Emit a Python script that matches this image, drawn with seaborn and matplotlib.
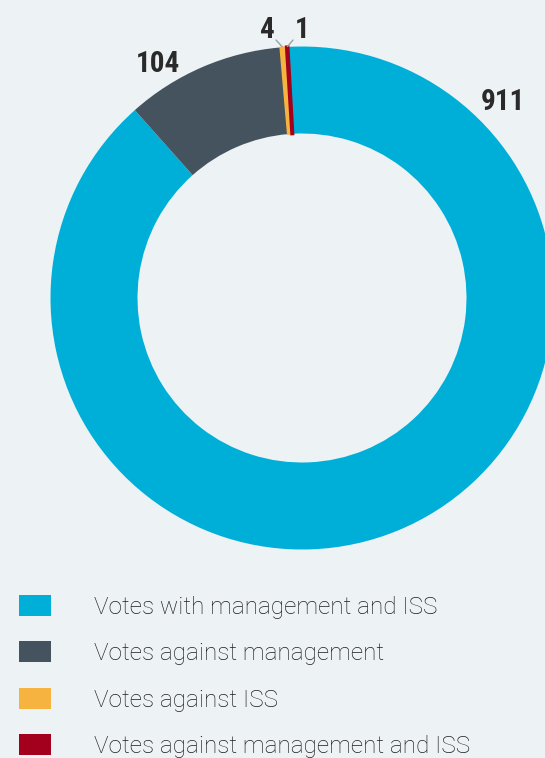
import matplotlib
matplotlib.use("Agg")
import matplotlib.pyplot as plt
import seaborn as sns
import numpy as np

categories = ["Votes with management and ISS", "Votes against management",
              "Votes against ISS", "Votes against management and ISS"]
values = [911, 104, 4, 1]
value_labels = ["911", "104", "4", "1"]
colors = ["#00AFD8", "#44535E", "#F7B33F", "#A2001D"]

BG = "#EDF2F5"
sns.set_theme(style="white", rc={"figure.facecolor": BG, "axes.facecolor": BG})
plt.rcParams['font.family'] = ['Roboto', 'DejaVu Sans']

W, H = 545, 758
fig = plt.figure(figsize=(W / 100, H / 100), dpi=100)
fig.patch.set_facecolor(BG)

cx, cy, R = 302, 298, 251.5
ax = fig.add_axes([(cx - R) / W, (H - cy - R) / H, 2 * R / W, 2 * R / H])
ax.set_facecolor("none")

wedges, _ = ax.pie(values, colors=colors, startangle=93.2, counterclock=False,
                   radius=1, wedgeprops=dict(width=87 / R, linewidth=0))
for w in wedges:
    w.set_clip_on(False)
# make the tiny slices visible (thin outline in their own colour)
for w, lw in zip(wedges[2:], [1.2, 2.2]):
    w.set_edgecolor(w.get_facecolor())
    w.set_linewidth(lw)
ax.set_xlim(-1, 1)
ax.set_ylim(-1, 1)
ax.set_aspect("equal")
ax.axis("off")

lab_font = dict(family=['Liberation Sans Narrow', 'Roboto Condensed', 'Roboto', 'DejaVu Sans'],
                fontsize=21, fontweight='bold', color="#2A2A2A", ha='center', va='center')
label_pos = [(0.80, 0.78), (-0.573, 0.932), (-0.139, 1.066), (0.0, 1.066)]
for (x, y), t in zip(label_pos, value_labels):
    ax.text(x, y, t, clip_on=False, **lab_font)

# leader lines for tiny slices
ax.plot([(276 - cx) / R, (282 - cx) / R], [(cy - 40) / R, (cy - 46.5) / R],
        color="#9AA0A6", lw=1, clip_on=False)
ax.plot([(293 - cx) / R, (287.5 - cx) / R], [(cy - 40) / R, (cy - 46.5) / R],
        color="#9AA0A6", lw=1, clip_on=False)

handles = [plt.Rectangle((0, 0), 1, 1, facecolor=c, edgecolor='none') for c in colors]
leg = fig.legend(handles, categories, loc='upper left',
                 bbox_to_anchor=(19 / W, 1 - 595 / H),
                 frameon=False, prop=dict(family='Roboto', weight='light', size=17.5),
                 handlelength=1.3, handleheight=0.95, handletextpad=1.8,
                 labelspacing=0.93, borderaxespad=0, borderpad=0)
for t in leg.get_texts():
    t.set_color("#1E1E1E")

fig.savefig("out.png", dpi=100, facecolor=BG)
